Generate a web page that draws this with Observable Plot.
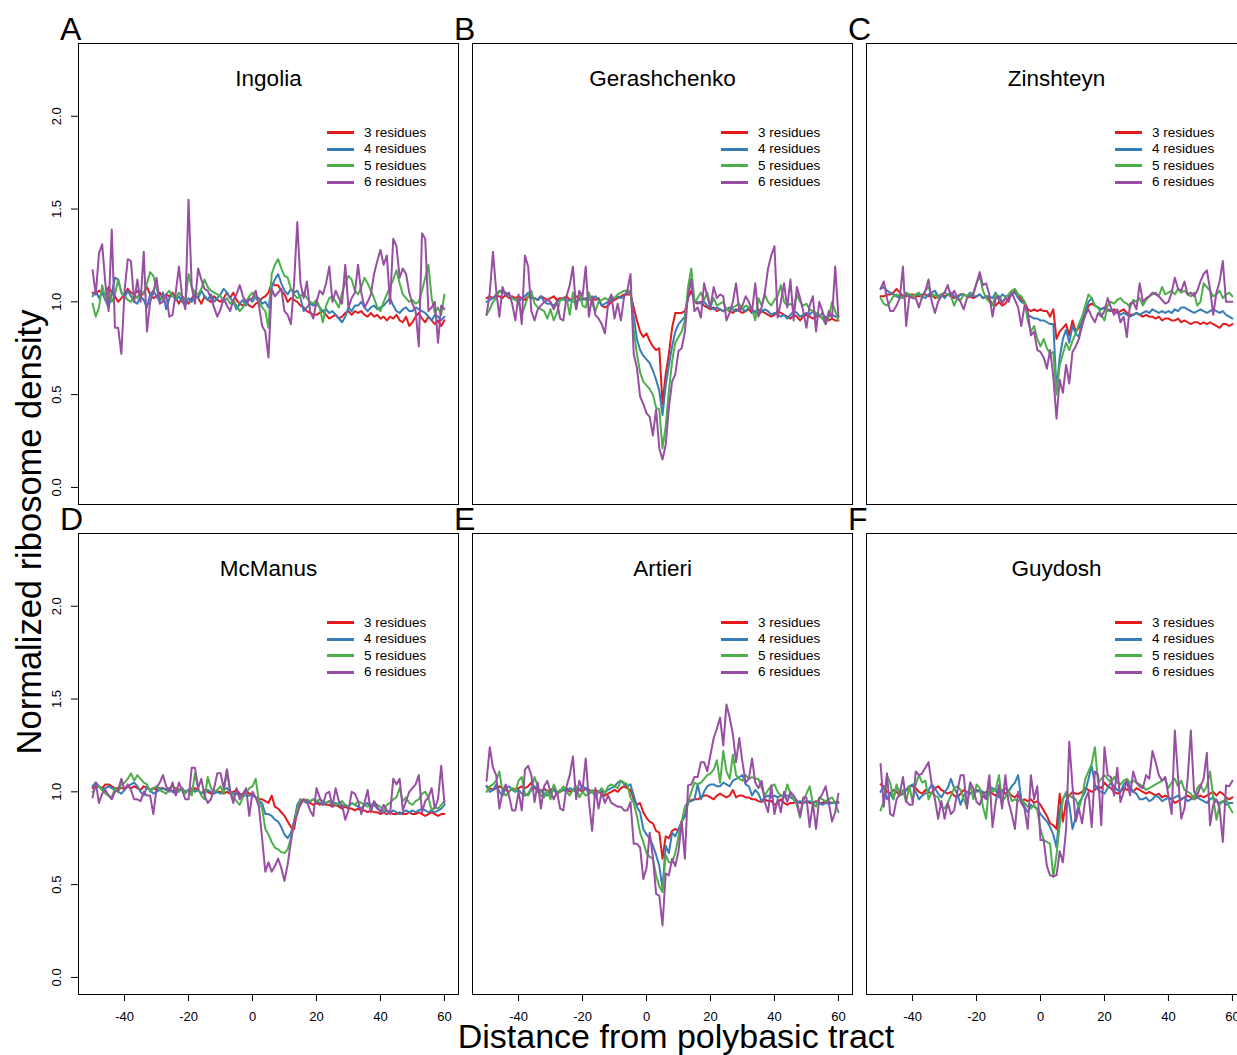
<!DOCTYPE html>
<html><head><meta charset="utf-8">
<script src="https://cdn.jsdelivr.net/npm/d3@7"></script>
<script src="https://cdn.jsdelivr.net/npm/@observablehq/plot@0.6"></script>
<style>
body{margin:0;background:#fff;}
#fig{position:relative;width:1237px;height:1055px;overflow:hidden;background:#fff;font-family:"Liberation Sans",Arial,sans-serif;color:#000;}
.panel{position:absolute;}
.panel svg{max-width:none !important;}
.legend{position:absolute;font-size:13.5px;line-height:16.4px;}
.legend .row{display:flex;align-items:center;height:16.4px;white-space:nowrap;}
.legend .sw{display:inline-block;width:27px;height:3px;margin-right:10px;}
#overlay{position:absolute;left:0;top:0;pointer-events:none;}
</style></head><body><div id="fig"></div>
<script>
const positions = d3.range(-50, 61);
const seriesNames = ["3 residues", "4 residues", "5 residues", "6 residues"];
const seriesColors = ["#E41A1C", "#377EB8", "#4DAF4A", "#984EA3"];
const panelTitles = ["Ingolia", "Gerashchenko", "Zinshteyn", "McManus", "Artieri", "Guydosh"];
const panelLetters = ["A", "B", "C", "D", "E", "F"];
const yTicks = [0, 0.5, 1, 1.5, 2];
const xTicks = [-40, -20, 0, 20, 40, 60];
const xLabel = "Distance from polybasic tract";
const yLabel = "Normalized ribosome density";

const ingolia3 = [1.05,1.04,1.06,1.05,1.03,1.08,1.05,1.03,1.00,1.02,
1.04,1.07,1.05,1.04,1.06,1.03,1.05,1.08,1.04,1.02,
1.03,1.05,1.02,1.04,1.03,1.05,1.02,0.99,1.03,1.01,
0.99,1.02,1.04,1.02,0.99,1.03,1.01,1.00,1.03,1.01,
1.00,1.02,1.05,1.02,1.05,1.01,0.99,0.98,1.00,0.98,
0.97,0.99,1.00,1.02,1.03,1.05,1.10,1.09,1.09,1.06,
1.04,1.00,1.02,1.01,1.00,0.98,0.97,0.95,0.94,0.93,
0.93,0.94,0.95,0.93,0.91,0.92,0.93,0.91,0.92,0.94,
0.95,0.93,0.95,0.94,0.95,0.93,0.92,0.94,0.92,0.93,
0.91,0.92,0.90,0.92,0.91,0.93,0.90,0.89,0.92,0.87,
0.89,0.92,0.94,0.91,0.89,0.92,0.90,0.88,0.90,0.87,
0.90];
const ingolia4 = [1.03,1.06,1.02,1.05,1.01,0.97,1.04,1.13,1.12,1.05,
1.02,1.06,1.03,1.00,0.99,1.03,1.01,0.97,1.04,1.06,
1.03,1.00,1.05,0.96,1.02,1.04,1.01,1.03,1.00,0.98,
1.02,1.00,1.04,1.02,1.06,1.03,1.01,1.04,1.00,1.02,
1.04,1.07,1.05,1.02,1.00,0.96,0.99,1.01,0.98,1.02,
1.00,1.03,1.02,0.99,1.00,0.97,1.08,1.12,1.15,1.10,
1.06,1.04,1.07,1.05,1.06,1.02,0.95,0.97,0.99,0.98,
0.99,0.97,0.95,0.96,0.94,0.95,0.93,0.91,0.89,0.92,
0.97,0.95,0.98,0.98,1.00,0.97,0.95,0.97,0.98,0.96,
0.97,0.98,1.00,1.02,0.98,0.95,0.94,0.96,0.97,0.95,
0.95,0.97,0.96,0.95,0.94,0.92,0.90,0.93,0.92,0.90,
0.92];
const ingolia5 = [0.99,0.92,0.97,1.09,1.02,1.06,1.00,1.04,1.12,1.05,
1.03,1.01,1.00,1.04,1.02,1.06,1.04,1.10,1.16,1.14,
1.07,1.02,1.01,1.04,1.06,1.03,1.02,1.05,1.03,1.00,
1.15,1.08,1.05,1.04,1.07,1.12,1.08,1.06,1.05,1.04,
1.03,1.00,1.02,0.99,1.01,0.98,0.95,0.97,1.00,1.03,
1.05,1.02,1.00,0.97,0.95,0.86,1.15,1.20,1.23,1.18,
1.14,1.13,1.07,1.04,1.02,1.03,1.05,1.02,1.00,0.99,
1.01,0.97,0.89,0.98,1.02,1.03,1.00,0.97,1.05,1.10,
1.14,1.12,1.06,1.04,1.08,1.13,1.10,1.06,1.02,0.97,
0.95,1.00,1.04,1.08,1.12,1.17,1.10,1.04,1.02,1.00,
1.01,0.99,1.00,1.06,1.13,1.20,1.02,0.94,0.97,0.93,
1.04];
const ingolia6 = [1.17,1.04,1.26,1.31,1.10,0.95,1.39,0.86,0.86,0.72,
1.06,1.23,1.22,1.00,1.12,1.00,1.27,0.84,1.00,1.05,
1.13,0.99,1.00,1.04,0.92,0.93,1.05,1.19,1.03,0.96,
1.55,1.08,0.99,1.18,1.12,1.07,1.06,1.02,0.97,0.92,
0.96,1.02,0.98,0.95,1.01,1.04,1.09,1.03,1.00,1.01,
1.02,1.06,0.98,0.87,0.84,0.70,1.07,1.03,1.05,1.07,
0.95,0.93,0.88,1.10,1.43,1.10,1.02,1.11,0.95,0.91,
1.00,1.06,1.04,1.10,1.19,1.00,1.06,1.02,0.99,1.20,
0.97,1.02,1.05,1.20,1.05,0.97,1.00,1.04,1.15,1.22,
1.28,1.20,1.25,0.99,1.34,1.30,1.13,1.18,1.15,1.05,
0.99,0.95,0.76,1.37,1.34,0.95,0.97,1.00,0.78,0.98,
0.96];

const gerash3 = [1.02,1.03,1.02,1.03,1.03,1.02,1.04,1.02,1.03,1.02,
1.03,1.02,1.01,1.03,1.02,1.02,1.01,1.03,1.02,1.01,
1.02,1.03,1.01,1.02,1.02,1.03,1.01,1.02,1.03,1.02,
1.02,1.01,1.03,1.02,1.01,1.02,0.98,0.97,0.98,1.00,
1.01,1.02,1.03,1.04,1.04,1.04,0.97,0.90,0.84,0.81,
0.83,0.79,0.76,0.74,0.75,0.45,0.61,0.72,0.86,0.94,
0.94,0.94,0.95,1.02,1.06,1.00,0.99,1.00,0.98,0.97,
0.96,0.97,0.95,0.96,0.95,0.96,0.95,0.94,0.96,0.95,
0.94,0.95,0.96,0.94,0.95,0.93,0.95,0.94,0.93,0.92,
0.93,0.95,0.94,0.93,0.92,0.91,0.93,0.92,0.90,0.92,
0.93,0.92,0.91,0.92,0.93,0.91,0.92,0.90,0.91,0.90,
0.90];
const gerash4 = [1.00,1.01,1.02,1.04,1.06,1.06,1.05,1.04,1.02,1.01,
1.00,1.02,1.03,1.05,1.03,1.02,1.01,1.03,1.00,0.99,
0.99,0.98,1.00,1.01,1.02,1.00,1.01,1.00,1.00,1.01,
1.01,1.02,1.01,1.02,1.03,1.01,0.98,0.99,1.00,1.01,
1.02,1.03,1.02,1.03,1.05,1.05,0.92,0.80,0.74,0.71,
0.69,0.67,0.63,0.58,0.52,0.39,0.55,0.66,0.76,0.84,
0.88,0.90,0.92,1.04,1.12,1.00,1.00,0.99,1.00,0.98,
0.97,0.96,0.97,0.96,0.95,0.96,0.97,0.96,0.95,0.96,
0.96,0.95,0.97,0.96,0.94,0.96,0.95,0.96,0.95,0.93,
0.94,0.93,0.92,0.93,0.91,0.93,0.95,0.94,0.92,0.93,
0.94,0.93,0.95,0.93,0.92,0.94,0.91,0.92,0.93,0.92,
0.92];
const gerash5 = [0.93,0.96,1.00,1.02,1.06,1.05,1.04,1.03,1.02,1.01,
1.00,0.93,0.98,1.03,1.06,0.99,0.97,0.96,0.95,0.91,
0.96,0.90,0.94,1.01,1.01,1.02,0.93,1.05,0.96,1.05,
0.98,0.97,1.05,0.99,0.95,1.00,1.01,1.02,1.01,1.03,
1.02,1.04,1.05,1.06,1.06,1.06,0.85,0.72,0.62,0.57,
0.55,0.53,0.50,0.43,0.42,0.21,0.33,0.52,0.68,0.78,
0.81,0.84,0.90,1.08,1.18,1.00,1.02,1.05,1.01,1.05,
0.97,1.02,0.98,0.99,1.00,0.96,0.95,0.97,0.98,0.99,
0.96,0.98,0.97,0.96,0.90,1.02,0.98,1.04,1.00,0.98,
1.01,1.03,1.09,1.00,0.98,0.99,0.97,1.04,1.00,0.98,
0.99,0.96,0.95,0.94,0.93,0.91,0.88,0.92,1.00,0.95,
0.90];
const gerash6 = [0.93,1.05,1.27,1.06,0.92,1.08,1.03,1.05,0.99,0.90,
1.04,0.88,1.25,1.19,0.95,0.90,0.96,0.98,1.00,1.01,
1.00,0.96,1.00,0.91,0.90,1.03,1.09,1.19,0.96,1.06,
1.03,1.19,0.92,1.03,0.93,0.91,0.88,0.83,0.99,1.04,
0.91,0.99,0.90,1.03,1.06,1.15,0.72,0.645,0.49,0.45,
0.40,0.38,0.28,0.42,0.21,0.15,0.23,0.43,0.57,0.61,
0.735,0.75,0.84,1.04,1.12,0.95,0.97,0.915,1.10,1.03,
0.97,1.08,1.02,1.04,1.03,0.90,0.94,1.00,1.10,0.95,
0.98,1.03,1.00,0.95,1.10,0.92,0.97,1.05,1.18,1.25,
1.30,0.915,1.00,1.10,0.97,1.12,0.90,1.08,1.02,0.95,
0.86,0.98,1.03,0.84,1.00,0.95,0.88,0.95,0.915,1.19,
0.92];

const zinsh3 = [1.03,1.03,1.04,1.04,1.05,1.07,1.05,1.03,1.03,1.04,
1.04,1.03,1.03,1.04,1.04,1.03,1.04,1.02,1.03,1.04,
1.03,1.04,1.03,1.02,1.03,1.04,1.04,1.03,1.03,1.02,
1.03,1.04,1.02,1.03,1.01,0.99,0.98,1.00,0.98,0.99,
1.02,1.04,1.06,1.04,1.01,1.00,0.96,0.95,0.96,0.95,
0.96,0.95,0.95,0.92,0.96,0.80,0.84,0.86,0.88,0.82,
0.90,0.84,0.86,0.89,0.93,0.98,0.99,0.98,0.97,0.96,
0.97,0.96,0.95,0.96,0.94,0.95,0.96,0.94,0.93,0.93,
0.94,0.93,0.92,0.93,0.92,0.92,0.91,0.92,0.90,0.91,
0.91,0.90,0.90,0.91,0.89,0.90,0.89,0.88,0.89,0.89,
0.88,0.89,0.88,0.89,0.88,0.87,0.86,0.88,0.88,0.87,
0.88];
const zinsh4 = [1.07,1.08,1.06,1.05,1.04,1.03,1.02,1.03,1.04,1.03,
1.03,1.04,1.04,1.03,1.02,1.04,1.05,1.06,1.03,1.04,
1.02,1.04,1.05,1.03,1.02,1.04,1.04,1.03,1.05,1.03,
1.03,1.04,1.02,1.03,1.03,1.02,1.05,1.01,1.04,1.03,
1.03,1.04,1.05,1.02,1.00,0.99,0.93,0.92,0.91,0.91,
0.90,0.90,0.89,0.88,0.88,0.53,0.70,0.80,0.85,0.78,
0.87,0.83,0.81,0.90,0.95,1.00,1.02,0.98,0.97,0.96,
0.97,0.95,0.96,0.94,0.95,0.93,0.94,0.93,0.92,0.93,
0.94,0.93,0.94,0.95,0.94,0.96,0.95,0.94,0.95,0.94,
0.95,0.94,0.96,0.95,0.97,0.97,0.96,0.95,0.94,0.95,
0.96,0.95,0.94,0.95,0.96,0.95,0.94,0.95,0.93,0.92,
0.91];
const zinsh5 = [1.02,0.99,0.98,1.00,1.03,1.04,1.03,1.02,1.05,1.04,
1.03,1.04,1.05,1.02,1.06,1.08,1.03,1.04,1.02,1.04,
1.05,1.04,1.03,0.98,1.02,1.01,1.04,1.03,1.04,1.05,
1.10,1.14,1.06,1.02,1.00,0.98,1.04,1.03,1.00,1.02,
1.04,1.06,1.07,1.04,1.03,1.00,0.90,0.84,0.87,0.80,
0.76,0.80,0.75,0.72,0.73,0.50,0.66,0.72,0.78,0.74,
0.79,0.83,0.88,0.92,0.98,1.04,1.02,0.98,0.97,0.93,
0.90,0.98,1.00,0.99,1.01,1.02,1.00,0.99,0.97,1.01,
1.00,1.02,0.98,1.01,1.03,1.04,1.05,1.03,1.08,1.04,
1.05,1.06,1.04,1.07,1.05,1.06,1.04,1.03,1.05,0.98,
1.00,1.10,1.08,1.06,1.03,1.04,1.06,1.02,1.04,1.05,
1.03];
const zinsh6 = [1.07,1.11,1.02,0.95,0.95,0.98,1.02,1.19,0.87,1.03,
1.02,1.02,0.97,1.03,1.06,1.12,1.00,0.94,1.00,1.03,
1.05,1.09,1.03,1.06,1.02,1.00,0.96,1.02,1.03,1.04,
1.10,1.16,1.09,1.10,1.04,0.92,1.02,1.03,0.99,1.02,
1.00,1.05,1.01,0.97,0.87,0.98,0.95,0.82,0.84,0.74,
0.73,0.70,0.64,0.74,0.60,0.37,0.58,0.51,0.66,0.56,
0.73,0.76,0.80,0.87,0.93,0.96,0.92,0.89,0.94,0.92,
0.95,1.02,0.97,0.93,0.96,0.89,0.92,0.81,0.99,1.00,
0.96,1.10,1.00,1.02,1.03,1.05,1.04,1.03,1.01,0.99,
1.00,1.05,1.13,1.07,1.06,1.11,1.04,1.05,1.03,1.06,
1.11,1.15,1.17,1.07,0.93,1.05,1.11,1.22,1.00,1.00,
1.00];

const mcmanus3 = [1.02,1.04,1.03,1.02,1.04,1.04,1.03,1.02,1.02,1.02,
1.02,1.03,1.02,1.03,1.02,1.01,1.03,1.02,1.01,1.02,
1.01,1.02,1.02,1.01,1.02,1.00,1.02,1.01,1.01,1.00,
1.01,1.00,1.02,1.01,0.99,1.01,1.00,0.99,1.00,1.00,
1.00,0.99,1.00,0.99,1.00,1.01,0.99,0.98,1.00,0.99,
0.99,0.97,0.96,0.96,0.95,0.94,0.98,0.92,0.91,0.89,
0.87,0.84,0.81,0.80,0.90,0.93,0.96,0.95,0.94,0.93,
0.94,0.93,0.94,0.93,0.93,0.92,0.93,0.92,0.91,0.92,
0.91,0.91,0.90,0.91,0.90,0.90,0.89,0.90,0.89,0.89,
0.88,0.89,0.88,0.89,0.88,0.88,0.89,0.88,0.88,0.89,
0.88,0.88,0.89,0.88,0.87,0.88,0.89,0.88,0.87,0.88,
0.88];
const mcmanus4 = [1.03,1.05,1.03,1.01,1.02,1.03,1.02,1.01,1.00,0.99,
1.01,1.03,1.04,1.05,1.03,1.00,0.98,1.03,1.01,0.99,
1.00,1.01,1.02,1.01,1.02,1.00,0.99,1.01,1.02,1.00,
1.01,1.02,1.00,1.01,0.99,1.00,1.01,1.00,0.99,1.00,
0.99,1.01,1.02,1.00,0.99,0.99,0.98,0.99,0.98,0.98,
0.98,0.97,0.95,0.94,0.88,0.88,0.87,0.85,0.84,0.81,
0.77,0.75,0.78,0.84,0.93,0.96,0.95,0.94,0.95,0.96,
0.95,0.94,0.93,0.94,0.95,0.93,0.94,0.93,0.92,0.93,
0.92,0.94,0.93,0.92,0.91,0.93,0.94,0.92,0.93,0.91,
0.90,0.89,0.90,0.89,0.90,0.89,0.88,0.89,0.90,0.89,
0.90,0.89,0.90,0.91,0.90,0.89,0.90,0.89,0.90,0.91,
0.93];
const mcmanus5 = [1.00,1.02,1.03,1.01,0.99,0.98,0.97,1.02,1.00,1.04,
1.05,1.07,1.10,1.06,1.09,1.07,1.05,1.04,1.00,1.02,
1.03,1.01,1.00,0.99,1.02,1.03,1.01,1.00,1.02,0.99,
1.01,0.98,1.10,1.02,0.98,0.96,1.08,1.02,1.00,1.01,
1.03,0.99,1.12,1.01,0.97,0.95,0.93,0.97,0.99,1.02,
1.03,1.07,0.95,0.91,0.80,0.77,0.73,0.70,0.69,0.675,
0.67,0.69,0.75,0.84,0.91,0.96,0.95,0.96,0.95,0.96,
0.95,0.96,0.95,0.94,0.95,0.94,0.93,0.94,0.95,0.93,
0.92,0.94,0.93,0.95,0.94,0.93,0.92,0.93,0.94,0.93,
0.92,0.90,0.93,0.94,0.96,0.97,1.02,0.95,0.97,0.94,
0.93,0.95,0.96,0.99,1.00,0.97,0.90,0.92,0.91,0.93,
0.95];
const mcmanus6 = [0.97,1.05,0.94,0.99,1.01,0.98,0.96,1.00,1.01,1.07,
1.01,1.04,1.01,0.96,0.96,0.95,1.00,0.98,0.98,0.88,
1.02,1.05,1.09,1.03,1.00,1.05,0.98,1.05,1.01,0.96,
0.96,1.13,1.13,1.02,1.07,0.98,0.94,0.96,1.02,1.10,
1.10,1.02,1.12,1.00,0.94,1.02,0.96,0.99,1.02,0.87,
1.00,0.97,0.92,0.75,0.57,0.62,0.57,0.60,0.64,0.59,
0.52,0.61,0.73,0.84,0.88,0.94,0.96,0.95,0.90,0.87,
1.02,0.97,0.93,0.99,1.00,0.92,1.02,0.95,0.93,0.85,
0.90,1.00,0.99,0.95,0.88,0.94,1.01,0.89,0.95,0.92,
0.89,0.93,0.90,0.88,1.07,1.04,1.07,0.90,0.95,1.00,
1.02,1.04,1.09,0.89,0.95,0.97,1.02,0.91,0.96,1.14,
0.94];

const artieri3 = [1.03,1.02,1.01,1.02,1.03,1.02,1.01,1.00,1.02,1.01,
1.02,1.03,1.02,1.03,1.05,1.02,1.01,1.00,1.02,1.00,
1.01,1.02,0.99,1.00,1.01,1.02,1.00,1.01,1.02,1.01,
1.00,1.02,1.01,1.00,1.01,1.00,0.99,0.98,0.99,1.00,
1.01,1.00,1.02,1.03,1.02,1.01,0.96,0.93,0.94,0.89,
0.86,0.84,0.83,0.79,0.78,0.64,0.76,0.75,0.79,0.80,
0.79,0.84,0.87,0.945,0.955,0.96,0.96,0.97,0.98,0.98,
0.97,0.96,0.98,0.99,0.98,0.97,0.98,1.01,0.97,0.98,
0.98,0.97,0.97,0.96,0.96,0.95,0.945,0.96,0.95,0.95,
0.93,0.94,0.96,0.94,0.93,0.94,0.94,0.95,0.94,0.94,
0.95,0.94,0.94,0.95,0.94,0.94,0.95,0.945,0.94,0.945,
0.945];
const artieri4 = [1.03,1.00,1.01,1.04,1.00,0.98,1.02,1.03,1.01,1.00,
1.01,0.99,0.98,0.99,1.02,1.03,1.00,1.01,0.99,0.98,
1.00,1.01,0.99,1.01,1.01,1.00,1.02,1.01,1.00,1.01,
1.03,1.02,0.99,1.00,0.98,1.00,1.01,1.00,1.01,1.02,
1.03,1.05,1.06,1.04,1.03,1.04,0.98,0.92,0.89,0.80,
0.77,0.75,0.71,0.66,0.60,0.48,0.71,0.67,0.78,0.76,
0.80,0.84,0.87,0.945,0.95,0.96,1.04,0.96,1.00,1.03,
1.04,1.04,1.03,1.03,1.05,1.04,1.03,1.06,1.07,1.08,
1.09,1.04,1.03,0.98,1.01,0.99,0.95,0.97,0.98,0.97,
0.98,0.97,0.98,0.98,0.98,0.97,0.96,0.94,0.95,0.94,
0.945,0.95,0.94,0.945,0.94,0.93,0.94,0.935,0.94,0.94,
0.94];
const artieri5 = [1.00,1.03,1.04,1.06,1.11,1.00,0.98,1.00,1.02,1.00,
1.06,1.08,0.99,0.98,1.01,1.08,1.03,0.98,0.97,1.01,
0.96,1.04,1.00,1.00,1.03,1.00,0.98,1.01,1.03,0.97,
1.00,0.98,0.99,1.01,0.97,1.00,1.02,0.99,1.03,1.04,
1.03,1.02,1.06,1.05,1.04,0.97,0.94,0.87,0.78,0.73,
0.67,0.65,0.64,0.55,0.49,0.46,0.66,0.62,0.62,0.67,
0.76,0.84,0.92,0.945,1.00,1.05,1.04,1.05,1.07,1.09,
1.10,1.12,1.17,1.05,1.22,1.11,1.07,1.20,1.09,1.07,
1.06,1.09,1.07,1.08,1.07,1.07,1.02,0.98,1.01,1.03,
1.04,1.00,0.98,0.97,1.04,0.99,0.96,0.93,0.86,0.95,
0.99,1.03,0.94,0.92,0.97,0.96,0.95,0.96,0.97,0.94,
0.89];
const artieri6 = [1.06,1.24,1.13,1.09,0.91,1.00,1.04,0.98,0.90,0.90,
1.00,0.90,1.12,1.14,1.09,0.945,1.05,0.91,1.03,1.06,
1.00,0.96,1.00,0.91,0.90,1.03,1.09,1.19,0.96,1.06,
1.01,1.18,0.95,0.79,1.02,0.91,1.00,0.94,0.98,0.94,
0.93,0.92,0.92,0.90,0.90,0.945,0.72,0.72,0.70,0.53,
0.59,0.78,0.65,0.45,0.44,0.28,0.56,0.55,0.64,0.60,
0.68,0.84,0.64,1.035,1.04,1.08,1.08,1.16,1.16,1.11,
1.20,1.29,1.34,1.40,1.25,1.47,1.40,1.31,1.16,1.29,
1.16,1.05,1.07,1.18,1.05,1.02,1.06,0.945,0.89,1.035,
0.88,0.96,0.89,1.00,0.945,1.00,0.98,0.95,0.87,0.97,
0.97,0.81,0.94,0.80,0.96,0.99,1.03,0.94,0.84,0.89,
0.99];

const guydosh3 = [1.04,1.03,1.00,0.99,1.01,1.00,0.98,0.99,1.01,1.03,
1.03,1.02,1.00,0.99,1.01,1.00,0.99,1.02,1.03,1.01,
1.00,0.99,1.00,0.98,0.97,0.99,1.01,1.00,0.99,1.00,
1.01,1.00,0.99,1.00,1.00,0.99,0.98,1.00,1.01,0.99,
1.00,0.98,0.97,0.99,0.95,0.96,0.95,0.96,0.94,0.95,
0.93,0.90,0.87,0.83,0.82,0.80,0.99,0.84,0.95,0.98,
1.00,0.99,0.99,1.00,1.02,1.01,1.00,1.01,1.03,1.02,
1.05,1.03,1.02,1.00,0.99,1.00,1.02,1.01,1.02,1.00,
1.02,1.01,1.00,0.99,1.00,0.99,0.98,0.99,0.97,0.98,
0.97,0.96,0.94,0.95,0.96,0.97,0.98,0.97,0.96,0.97,
0.98,0.97,0.98,0.99,1.00,0.98,1.00,0.99,0.97,0.96,
0.97];
const guydosh4 = [1.00,1.03,0.96,0.99,0.96,1.03,1.00,0.99,1.01,1.03,
1.04,1.00,0.96,0.98,0.99,1.01,1.04,1.02,0.99,0.97,
1.00,1.02,1.07,1.02,0.99,0.93,0.98,1.00,0.99,1.00,
1.00,1.01,1.00,0.97,0.99,1.02,1.01,0.97,1.00,1.02,
1.00,1.03,1.05,1.09,0.96,0.92,0.89,0.93,0.92,0.91,
0.88,0.86,0.84,0.81,0.77,0.70,0.90,0.96,0.99,0.93,
0.80,0.86,0.94,0.97,1.00,1.07,1.14,1.04,1.01,1.00,
0.99,1.02,1.05,1.03,1.01,1.00,1.04,1.06,1.03,1.00,
0.99,0.96,0.96,0.97,0.95,0.96,0.98,0.97,0.95,0.96,
0.97,0.96,0.97,0.98,0.96,0.97,0.95,0.96,0.98,0.97,
0.96,0.95,0.94,0.96,0.97,0.95,0.94,0.95,0.93,0.94,
0.94];
const guydosh5 = [0.90,0.95,1.09,1.05,0.96,1.04,0.98,1.01,0.945,1.03,
0.945,1.04,1.09,1.05,1.06,0.96,1.00,0.98,0.97,0.92,
0.91,0.94,0.98,1.02,1.03,1.01,0.96,0.92,1.05,0.96,
1.04,1.02,0.92,0.855,1.05,1.00,1.01,1.09,0.95,0.97,
1.01,0.95,0.96,0.95,0.96,0.94,0.92,0.91,0.93,0.90,
0.80,0.74,0.73,0.72,0.54,0.66,0.82,0.96,1.00,0.98,
0.97,0.96,0.91,0.97,1.07,1.11,1.15,1.24,1.05,1.07,
1.09,1.07,1.05,1.08,1.05,1.04,1.06,1.07,1.05,1.06,
1.05,1.04,1.03,1.01,1.02,1.03,1.04,1.05,1.06,1.07,
1.02,1.05,1.07,1.03,1.06,1.01,1.00,0.99,0.96,1.02,
1.04,1.00,1.03,1.11,0.97,0.85,0.93,0.95,0.96,0.92,
0.89];
const guydosh6 = [1.15,0.92,1.10,0.88,0.87,0.96,0.99,1.08,0.95,0.93,
0.93,1.11,1.09,1.10,1.13,1.16,1.04,0.96,0.855,0.95,
0.855,0.94,0.88,0.90,1.00,1.09,1.09,0.91,1.05,1.02,
0.945,0.93,0.98,0.96,1.09,0.81,0.945,1.035,0.91,1.09,
0.945,0.88,0.80,1.00,0.94,0.91,0.80,1.09,0.96,1.03,
0.74,0.74,0.60,0.55,0.545,0.55,0.68,0.62,0.80,1.27,
1.03,0.84,0.91,0.83,0.96,1.00,0.81,1.11,1.09,0.82,
1.24,1.09,1.08,0.98,1.13,0.945,1.00,1.06,0.98,1.11,
1.05,1.03,1.02,1.09,1.07,1.22,1.16,1.09,1.06,1.08,
0.98,0.88,1.33,1.08,0.855,0.91,1.07,1.33,1.00,0.98,
1.03,1.07,1.21,0.82,0.93,0.96,0.91,0.73,1.035,1.03,
1.06];

const panelSeries = [
  [ingolia3, ingolia4, ingolia5, ingolia6],
  [gerash3, gerash4, gerash5, gerash6],
  [zinsh3, zinsh4, zinsh5, zinsh6],
  [mcmanus3, mcmanus4, mcmanus5, mcmanus6],
  [artieri3, artieri4, artieri5, artieri6],
  [guydosh3, guydosh4, guydosh5, guydosh6]
];

// layout
const boxW = 380, boxH = 461;
const boxLefts = [78, 472, 866];
const boxTops = [43, 533];
const ML = 50, MR = 10, MT = 1, MB = 45;
const FONT = "'Liberation Sans', Arial, Helvetica, sans-serif";

const fig = document.getElementById("fig");

panelSeries.forEach((series, p) => {
  const col = p % 3, row = Math.floor(p / 3);
  const rows = [];
  series.forEach((vals, s) => {
    vals.forEach((v, i) => rows.push({x: positions[i], y: v, s: seriesNames[s]}));
  });
  const showY = col === 0;
  const showX = row === 1;
  const W = ML + boxW + MR, H = MT + boxH + MB;
  const chart = Plot.plot({
    width: W,
    height: H,
    marginLeft: ML, marginRight: MR, marginTop: MT, marginBottom: MB,
    style: {fontFamily: FONT, fontSize: "13px", background: "transparent", overflow: "visible", color: "#000", maxWidth: "none"},
    x: {domain: [-54.4, 64.4], axis: showX ? "bottom" : null, ticks: xTicks, tickFormat: d => String(d), tickSize: 7, tickPadding: 10, label: null},
    y: {domain: [-0.092, 2.392], axis: showY ? "left" : null, ticks: yTicks, tickFormat: d3.format(".1f"), tickRotate: -90, tickSize: 7, tickPadding: 11, label: null},
    color: {domain: seriesNames, range: seriesColors},
    marks: [
      Plot.lineY(rows, {x: "x", y: "y", z: "s", stroke: "s", strokeWidth: 2, strokeLinejoin: "round"}),
      Plot.frame({stroke: "#000", strokeWidth: 1}),
      Plot.text([panelTitles[p]], {frameAnchor: "top", dy: 42, lineAnchor: "bottom", fontSize: 22.5, fill: "#000"})
    ]
  });
  chart.style.maxWidth = "none";
  chart.style.width = W + "px";
  chart.style.height = H + "px";
  const div = document.createElement("div");
  div.className = "panel";
  div.style.left = (boxLefts[col] - ML) + "px";
  div.style.top = (boxTops[row] - MT) + "px";
  div.style.width = W + "px";
  div.style.height = H + "px";
  div.appendChild(chart);
  fig.appendChild(div);

  // legend
  const lg = document.createElement("div");
  lg.className = "legend";
  lg.style.left = (boxLefts[col] + 249) + "px";
  lg.style.top = (boxTops[row] + 90 - 8.2) + "px";
  seriesNames.forEach((name, s) => {
    const r = document.createElement("div");
    r.className = "row";
    const sw = document.createElement("span");
    sw.className = "sw";
    sw.style.background = seriesColors[s];
    const t = document.createElement("span");
    t.textContent = name;
    r.appendChild(sw); r.appendChild(t);
    lg.appendChild(r);
  });
  fig.appendChild(lg);
});

// overlay: panel letters and axis titles
const ns = "http://www.w3.org/2000/svg";
const svg = document.createElementNS(ns, "svg");
svg.setAttribute("id", "overlay");
svg.setAttribute("width", 1237);
svg.setAttribute("height", 1055);
svg.style.fontFamily = FONT;
function addText(str, attrs) {
  const t = document.createElementNS(ns, "text");
  for (const k in attrs) t.setAttribute(k, attrs[k]);
  t.textContent = str;
  svg.appendChild(t);
}
const letterX = [60, 454, 848];
const letterY = [40, 530];
panelLetters.forEach((L, p) => {
  addText(L, {x: letterX[p % 3], y: letterY[Math.floor(p / 3)], "font-size": 32, fill: "#000"});
});
addText(xLabel, {x: 676, y: 1048, "font-size": 34, "text-anchor": "middle", fill: "#000"});
addText(yLabel, {transform: "translate(41,532) rotate(-90)", "font-size": 34.5, "text-anchor": "middle", fill: "#000"});
fig.appendChild(svg);
</script>
</body></html>
